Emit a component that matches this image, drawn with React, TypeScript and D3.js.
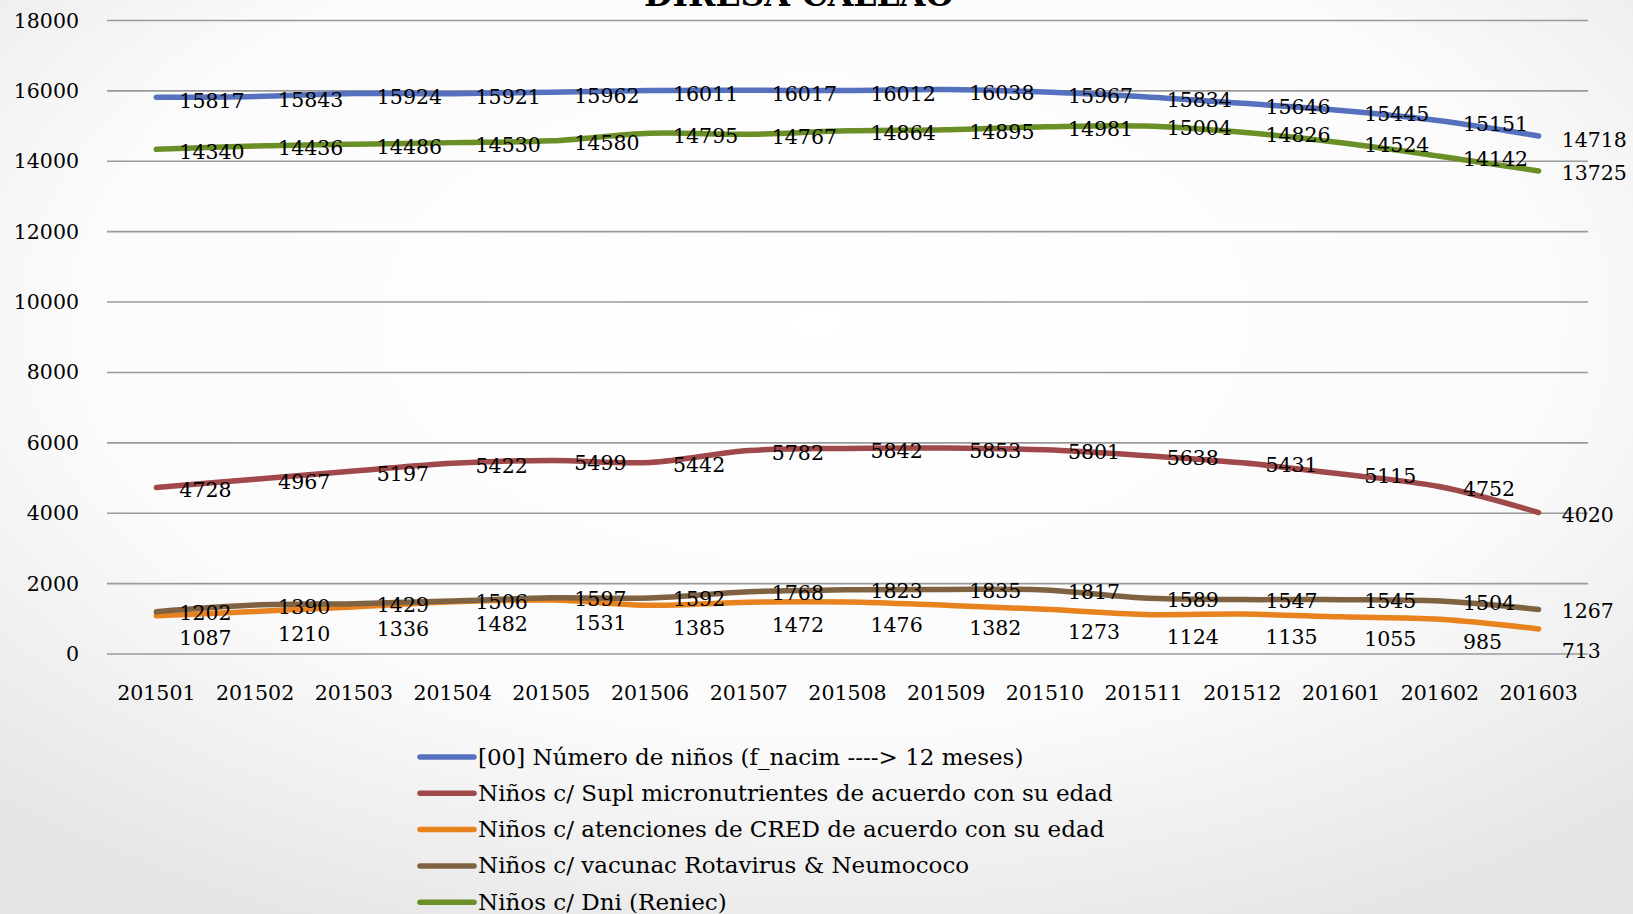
import React from "react";
import * as d3 from "d3";

const categories = ["201501","201502","201503","201504","201505","201506","201507","201508","201509","201510","201511","201512","201601","201602","201603"];

const seriesNames = [
  "[00] Número de niños (f_nacim ----> 12 meses)",
  "Niños c/ Supl micronutrientes de acuerdo con su edad",
  "Niños c/ atenciones de CRED de acuerdo con su edad",
  "Niños c/ vacunac Rotavirus & Neumococo",
  "Niños c/ Dni (Reniec)",
];

const ninos = [15817,15843,15924,15921,15962,16011,16017,16012,16038,15967,15834,15646,15445,15151,14718];
const micronutrientes = [4728,4967,5197,5422,5499,5442,5782,5842,5853,5801,5638,5431,5115,4752,4020];
const cred = [1087,1210,1336,1482,1531,1385,1472,1476,1382,1273,1124,1135,1055,985,713];
const vacunas = [1202,1390,1429,1506,1597,1592,1768,1823,1835,1817,1589,1547,1545,1504,1267];
const dni = [14340,14436,14486,14530,14580,14795,14767,14864,14895,14981,15004,14826,14524,14142,13725];

const yTicks = [0,2000,4000,6000,8000,10000,12000,14000,16000,18000];
const title = "DIRESA CALLAO";

const colors = ["#5571BE", "#A0494A", "#E8821E", "#7E6242", "#6B8F27"];
const labelDy = [3, 2, 22, 1, 2];

const W = 1633, H = 914;
const FONT = "'DejaVu Serif', serif";

export default function App() {
  const x = d3.scaleBand().domain(categories).range([107, 1588]);
  const y = d3.scaleLinear().domain([0, 18000]).range([654, 20.5]);
  const cx = (c: string) => (x(c) as number) + x.bandwidth() / 2;
  const allSeries = [ninos, micronutrientes, cred, vacunas, dni];
  const line = d3.line<number>()
    .x((_, i) => cx(categories[i]))
    .y((v) => y(v))
    .curve(d3.curveCatmullRom.alpha(0.5));

  return (
    <svg width={W} height={H} style={{ position: "absolute", left: 0, top: 0 }} fontFamily={FONT}>
      <defs>
        <radialGradient id="bg" cx="50%" cy="35%" r="75%">
          <stop offset="0%" stopColor="#ffffff" />
          <stop offset="60%" stopColor="#fbfbfb" />
          <stop offset="100%" stopColor="#e4e4e4" />
        </radialGradient>
      </defs>
      <rect x={0} y={0} width={W} height={H} fill="url(#bg)" />
      <text x={799} y={6} textAnchor="middle" fontSize={33} fontWeight="bold" fill="#000">{title}</text>
      {yTicks.map((t) => (
        <g key={t}>
          <line x1={107} x2={1588} y1={y(t)} y2={y(t)} stroke="#9a9a9a" strokeWidth={1.6} />
          <text x={79} y={y(t) + 7} textAnchor="end" fontSize={20.5} fill="#000">{t}</text>
        </g>
      ))}
      {categories.map((c) => (
        <text key={c} x={cx(c)} y={700} textAnchor="middle" fontSize={20.5} fill="#000">{c}</text>
      ))}
      {allSeries.map((s, k) => (
        <path key={k} d={line(s) || ""} fill="none" stroke={colors[k]} strokeWidth={5.5} strokeLinecap="round" strokeLinejoin="round" />
      ))}
      {allSeries.map((s, k) => (
        <g key={"l" + k}>
          {s.map((v, i) => (
            <text key={i} x={cx(categories[i]) + 23} y={y(v) + labelDy[k] + 7.5} fontSize={20.5} fill="#000">{v}</text>
          ))}
        </g>
      ))}
      {seriesNames.map((n, k) => {
        const yy = 757 + k * 36.3;
        return (
          <g key={n}>
            <line x1={420} x2={474} y1={yy} y2={yy} stroke={colors[k]} strokeWidth={5.5} strokeLinecap="round" />
            <text x={478} y={yy + 7.5} fontSize={23} fill="#000">{n}</text>
          </g>
        );
      })}
    </svg>
  );
}
